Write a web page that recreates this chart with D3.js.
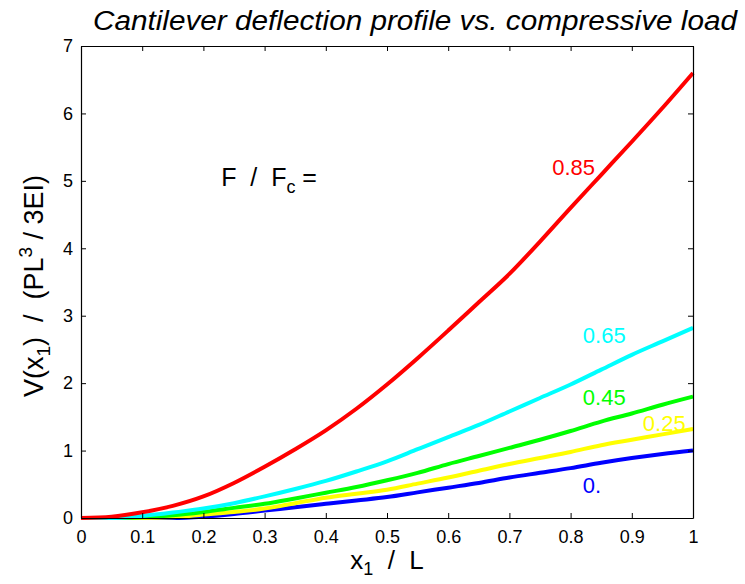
<!DOCTYPE html>
<html>
<head>
<meta charset="utf-8">
<script src="https://cdn.jsdelivr.net/npm/d3@7"></script>
<style>
  body { margin: 0; background: #fff; }
  text { font-family: "Liberation Sans", Arial, sans-serif; }
</style>
</head>
<body>
<div id="chart"></div>
<script>
const width = 745, height = 584;

// x positions (x1 / L)
const xs = [0, 0.05, 0.1, 0.15, 0.2, 0.25, 0.3, 0.35, 0.4, 0.45, 0.5,
            0.55, 0.6, 0.65, 0.7, 0.75, 0.8, 0.85, 0.9, 0.95, 1.0];

// deflection for each load ratio
const v000 = [0, 0, 0, 0, 0.02, 0.06, 0.11, 0.16, 0.21, 0.26, 0.31,
              0.38, 0.45, 0.52, 0.60, 0.67, 0.74, 0.82, 0.89, 0.95, 1.0];
const v025 = [0, 0, 0, 0.01, 0.05, 0.09, 0.14, 0.22, 0.30, 0.36, 0.42,
              0.51, 0.60, 0.70, 0.80, 0.89, 0.98, 1.08, 1.16, 1.24, 1.32];
const v045 = [0, 0, 0.01, 0.04, 0.09, 0.15, 0.21, 0.29, 0.375, 0.46, 0.56,
              0.67, 0.80, 0.92, 1.04, 1.16, 1.29, 1.43, 1.55, 1.68, 1.80];
const v065 = [0, 0, 0.03, 0.08, 0.14, 0.22, 0.32, 0.43, 0.55, 0.69, 0.84,
              1.02, 1.20, 1.38, 1.58, 1.78, 1.98, 2.20, 2.42, 2.62, 2.82];
const v085 = [0, 0.02, 0.085, 0.18, 0.32, 0.52, 0.76, 1.02, 1.3, 1.62, 1.98,
              2.37, 2.78, 3.2, 3.62, 4.1, 4.6, 5.09, 5.58, 6.08, 6.6];

const loadLabels = ["0.", "0.25", "0.45", "0.65", "0.85"];
const colors = ["#0000ff", "#ffff00", "#00ff00", "#00ffff", "#ff0000"];
const seriesValues = [v000, v025, v045, v065, v085];

const xTicks = [0, 0.1, 0.2, 0.3, 0.4, 0.5, 0.6, 0.7, 0.8, 0.9, 1];
const yTicks = [0, 1, 2, 3, 4, 5, 6, 7];

const margin = {top: 46, right: 52, bottom: 66, left: 81};
const iw = width - margin.left - margin.right;
const ih = height - margin.top - margin.bottom;

const svg = d3.select("#chart").append("svg")
    .attr("width", width)
    .attr("height", height);

const g = svg.append("g")
    .attr("transform", `translate(${margin.left},${margin.top})`);

const x = d3.scaleLinear().domain([0, 1]).range([0, iw]);
const y = d3.scaleLinear().domain([0, 7]).range([ih, 0]);

// curves
const line = d3.line()
    .curve(d3.curveMonotoneX)
    .x(d => x(d[0]))
    .y(d => y(d[1]));

seriesValues.forEach((vals, i) => {
    g.append("path")
        .datum(xs.map((xv, j) => [xv, vals[j]]))
        .attr("fill", "none")
        .attr("stroke", colors[i])
        .attr("stroke-width", 4)
        .attr("stroke-linejoin", "round")
        .attr("d", line);
});

// box axes with inward ticks
const tickFmt = d => d === 0 ? "0" : d === 1 ? "1" : d3.format(".1f")(d);

g.append("g")
    .attr("transform", `translate(0,${ih})`)
    .call(d3.axisBottom(x).tickValues(xTicks).tickSizeInner(-5).tickSizeOuter(0)
        .tickPadding(12).tickFormat(tickFmt));
g.append("g")
    .call(d3.axisTop(x).tickValues(xTicks).tickSizeInner(-5).tickSizeOuter(0).tickFormat(""));
g.append("g")
    .call(d3.axisLeft(y).tickValues(yTicks).tickSizeInner(-5).tickSizeOuter(0)
        .tickPadding(8).tickFormat(d3.format("d")));
g.append("g")
    .attr("transform", `translate(${iw},0)`)
    .call(d3.axisRight(y).tickValues(yTicks).tickSizeInner(-5).tickSizeOuter(0).tickFormat(""));

g.selectAll(".domain").attr("stroke", "#000").attr("stroke-width", 1.2);
g.selectAll(".tick line").attr("stroke", "#000");
g.selectAll(".tick text").attr("font-size", 18).attr("fill", "#000")
    .attr("font-family", "Liberation Sans, Arial, sans-serif");

// curve labels
const labelPos = [
    {x: 0.82, v: 0.37},
    {x: 0.918, v: 1.29},
    {x: 0.82, v: 1.68},
    {x: 0.82, v: 2.59},
    {x: 0.77, v: 5.09}
];
loadLabels.forEach((t, i) => {
    g.append("text")
        .attr("x", x(labelPos[i].x))
        .attr("y", y(labelPos[i].v))
        .attr("fill", colors[i])
        .attr("font-size", 22)
        .text(t);
});

// F / Fc =
const fl = g.append("text")
    .attr("x", x(0.229))
    .attr("y", y(4.93))
    .attr("font-size", 25)
    .attr("fill", "#000")
    .attr("xml:space", "preserve");
fl.append("tspan").text("F  /  F");
fl.append("tspan").attr("font-size", 18).attr("dy", 7).text("c");
fl.append("tspan").attr("dy", -7).text(" =");

// title
svg.append("text")
    .attr("x", 415)
    .attr("y", 30)
    .attr("text-anchor", "middle")
    .attr("font-size", 27)
    .attr("font-style", "italic")
    .attr("textLength", 644)
    .attr("lengthAdjust", "spacingAndGlyphs")
    .text("Cantilever deflection profile vs. compressive load");

// x label
const xl = svg.append("text")
    .attr("x", margin.left + iw / 2)
    .attr("y", 569)
    .attr("text-anchor", "middle")
    .attr("font-size", 26)
    .attr("xml:space", "preserve");
xl.append("tspan").text("x");
xl.append("tspan").attr("font-size", 18).attr("dy", 6).text("1");
xl.append("tspan").attr("dy", -6).text("  /  L");

// y label
const yl = svg.append("text")
    .attr("transform", `translate(43,${margin.top + ih / 2 + 4}) rotate(-90)`)
    .attr("text-anchor", "middle")
    .attr("font-size", 27)
    .attr("xml:space", "preserve");
yl.append("tspan").text("V(x");
yl.append("tspan").attr("font-size", 19).attr("dy", 7).text("1");
yl.append("tspan").attr("dy", -7).text(")  /  (PL");
yl.append("tspan").attr("font-size", 19).attr("dy", -11).text("3");
yl.append("tspan").attr("dy", 11).text(" / 3EI)");
</script>
</body>
</html>
